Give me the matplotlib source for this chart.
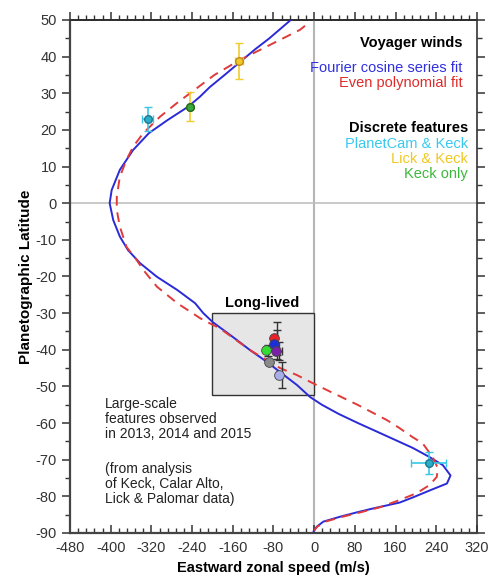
import numpy as np
import matplotlib.pyplot as plt
from matplotlib.patches import Rectangle

plt.rcParams['font.family'] = ['Liberation Sans', 'DejaVu Sans']
plt.rcParams['axes.unicode_minus'] = False

# Voyager winds: Fourier cosine series fit (lat, u)
fourier_lat = [50, 45, 42, 38.5, 35, 31.7, 29, 26.3, 22.7, 19.1, 14.5, 9.1, 3.6, 0, -4.6, -9.1,
               -12.8, -16.4, -20.1, -23.7, -27.3, -30, -32.5, -36.5, -40.1, -43.3, -46.1,
               -49.6, -52.9, -55, -57.5, -60, -62.7, -66.8, -69.3, -71.5, -74.3, -76.5,
               -78.4, -80.3, -81.7, -83.3, -84.4, -85.6, -86.9, -88.3, -89.5]
fourier_u = [-46, -88, -116, -146, -176, -205, -225, -248, -288, -325, -356, -382, -398, -402,
             -395, -382, -366, -342, -309, -269, -234, -218, -199, -160, -126, -93, -67, -34,
             -8, 15, 48, 86, 129, 194, 227, 253, 268, 261, 227, 194, 168, 116, 83, 50, 18, 5, -1]

# Voyager winds: even polynomial fit
poly_lat = [48.4, 47.3, 45, 42, 39.1, 35, 30, 27.3, 23.6, 19.1, 15.4, 11.8, 7.2, 1.8, -1.8,
            -6.4, -11.9, -15.5, -18.2, -22.8, -27.3, -31.4, -32.8, -34.1, -40.1, -45, -46.9,
            -49.1, -51, -55, -59.2, -61.4, -63.9, -65.5, -69.3, -72.3, -74.7, -76.9, -79.1,
            -81, -83, -84.4, -85.6, -86.9, -88.3, -89.3]
poly_u = [-18, -28, -61, -104, -146, -196, -244, -270, -303, -336, -356, -369, -382, -388,
          -388, -382, -369, -349, -336, -309, -269, -224, -205, -186, -126, -67, -34, -3, 25,
          85, 143, 168, 194, 213, 233, 243, 241, 227, 202, 168, 129, 90, 55, 22, 6, 0]

# discrete features
planetcam_u = [-327, 225]
planetcam_lat = [23, -70.9]
planetcam_uerr = [11, 35]
planetcam_laterr = [3.3, 3]

lick_u = [-148, -244]
lick_lat = [38.8, 26.3]
lick_uerr = [8, 0]
lick_laterr = [5, 4]

keck_u = [-244]
keck_lat = [26.3]

# long-lived features
long_u = [-79, -79, -95, -75, -89, -69]
long_lat = [-36.8, -38.5, -40.1, -40.4, -43.4, -46.9]
long_laterr = [4.5, 4, 1.5, 2.5, 0, 3.5]
long_uerr = [0, 0, 0, 6, 0, 0]
long_colors = ['#e8202a', '#1a2fd8', '#33dd33', '#7a1fa8', '#8a8a8a', '#a8aee8']

fig = plt.figure(figsize=(4.89, 5.77), dpi=100)
ax = fig.add_axes([0.1431, 0.0763, 0.8323, 0.8891])

ax.axvline(0, color='#b5b5b5', lw=1.5, zorder=1)
ax.axhline(0, color='#c0c0c0', lw=1.2, zorder=1)
ax.add_patch(Rectangle((-200, -52.4), 200, 22.4, facecolor='#e6e6e6',
                       edgecolor='#333333', lw=1.0, zorder=1))

ax.plot(fourier_u, fourier_lat, color='#2a2ad8', lw=1.4, zorder=3)
ax.plot(poly_u, poly_lat, color='#e03a3a', lw=1.4, ls=(0, (5, 3.5)), zorder=3)

ax.errorbar(planetcam_u, planetcam_lat, xerr=planetcam_uerr, yerr=planetcam_laterr,
            fmt='o', ms=5.5, mfc='#2aaec8', mec='#1a7890', ecolor='#39c6e6',
            elinewidth=1.2, capsize=3, zorder=4)
ax.errorbar(lick_u, lick_lat, xerr=lick_uerr, yerr=lick_laterr,
            fmt='o', ms=5.5, mfc='#f0c828', mec='#c08a10', ecolor='#f0cc30',
            elinewidth=1.2, capsize=3, zorder=4)
ax.plot(keck_u, keck_lat, 'o', ms=5.5, mfc='#3aa83a', mec='#1f6a1f', zorder=5)

for u, lat, du, dl, c in zip(long_u, long_lat, long_uerr, long_laterr, long_colors):
    ax.errorbar([u + 5], [lat], xerr=[du] if du else None, yerr=[dl] if dl else None,
                fmt='none', ecolor='#333333', elinewidth=1.0, capsize=3, zorder=4)
    ax.plot([u], [lat], 'o', ms=7, mfc=c, mec='#444444', mew=0.6, zorder=5)

ax.set_xlim(-480, 320)
ax.set_ylim(-90, 50)
ax.set_xticks(np.arange(-480, 321, 80))
ax.set_yticks(np.arange(-90, 51, 10))
ax.set_xticks(np.arange(-480, 321, 16), minor=True)
ax.set_yticks(np.arange(-90, 51, 5), minor=True)

ax.tick_params(axis='x', which='both', direction='in', bottom=True, top=False,
               labelsize=10.5, colors='#333333', pad=6)
ax.tick_params(axis='y', which='both', direction='out', left=True, right=True,
               labelsize=10.5, colors='#333333')
ax.tick_params(which='major', length=6, width=1.1)
ax.tick_params(which='minor', length=3.5, width=1.0)

top = ax.secondary_xaxis('top')
top.set_xticks(np.arange(-480, 321, 80))
top.set_xticks(np.arange(-480, 321, 16), minor=True)
top.tick_params(which='both', direction='out', labeltop=False, colors='#333333')
top.tick_params(which='major', length=6, width=1.1)
top.tick_params(which='minor', length=3.5, width=1.0)
top.set_xticklabels([])

for s in ['left', 'bottom']:
    ax.spines[s].set_linewidth(1.6)
    ax.spines[s].set_color('#444444')
for s in ['right', 'top']:
    ax.spines[s].set_linewidth(1.2)
    ax.spines[s].set_color('#333333')
top.spines['top'].set_linewidth(1.2)

ax.set_xlabel('Eastward zonal speed (m/s)', fontsize=10.5, fontweight='bold', labelpad=4)
ax.set_ylabel('Planetographic Latitude', fontsize=11, fontweight='bold', labelpad=2)

fs = 10.5
ax.text(292, 43.7, 'Voyager winds', ha='right', va='center', fontsize=fs, fontweight='bold')
ax.text(292, 36.9, 'Fourier cosine series fit', ha='right', va='center', fontsize=fs, color='#3030e0')
ax.text(292, 32.8, 'Even polynomial fit', ha='right', va='center', fontsize=fs, color='#e02a2a')
ax.text(302, 20.5, 'Discrete features', ha='right', va='center', fontsize=fs, fontweight='bold')
ax.text(302, 16.1, 'PlanetCam & Keck', ha='right', va='center', fontsize=fs, color='#38c8ee')
ax.text(302, 12.0, 'Lick & Keck', ha='right', va='center', fontsize=fs, color='#f0c820')
ax.text(302, 7.9, 'Keck only', ha='right', va='center', fontsize=fs, color='#3cb83c')

ax.text(-103, -27.3, 'Long-lived', ha='center', va='center', fontsize=fs, fontweight='bold')
ax.text(-411, -52.8, 'Large-scale\nfeatures observed\nin 2013, 2014 and 2015',
        ha='left', va='top', fontsize=10, linespacing=1.1, color='#222222')
ax.text(-411, -70.6, '(from analysis\nof Keck, Calar Alto,\nLick & Palomar data)',
        ha='left', va='top', fontsize=10, linespacing=1.1, color='#222222')

fig.savefig('out.png', dpi=100)
